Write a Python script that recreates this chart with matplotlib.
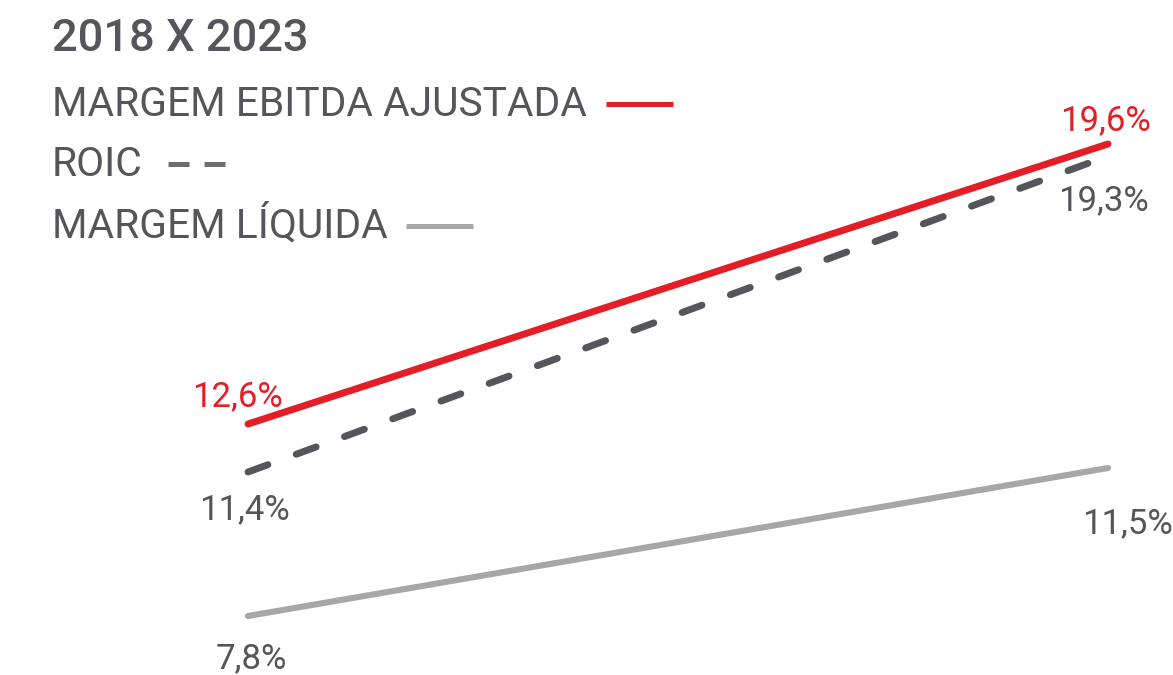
import matplotlib
matplotlib.use("Agg")
import matplotlib.pyplot as plt
from matplotlib.lines import Line2D

# ---- data ----
years = ["2018", "2023"]
series_names = ["MARGEM EBITDA AJUSTADA", "ROIC", "MARGEM LÍQUIDA"]
ebitda = [12.6, 19.6]
roic = [11.4, 19.3]
liquida = [7.8, 11.5]
ebitda_labels = ["12,6%", "19,6%"]
roic_labels = ["11,4%", "19,3%"]
liquida_labels = ["7,8%", "11,5%"]
title = "2018 X 2023"

RED = "#E31E26"
DARK = "#55565B"
LIGHT = "#A7A7A8"
TEXT = "#55565B"
FONT = "Roboto"

W, H = 1173, 675
fig = plt.figure(figsize=(W / 100, H / 100), dpi=100)
ax = fig.add_axes([0, 0, 1, 1])
ax.set_axis_off()
x = [0, 1]
# pixel mapping: x=0 -> 248px, x=1 -> 1108px ; y value v -> 928 - 40*v (from top)
ax.set_xlim(-248 / 860, (W - 248) / 860)
ax.set_ylim((928 - H) / 40, 928 / 40)

lw = 5.0
ax.plot(x, ebitda, color=RED, lw=lw, solid_capstyle="round")
l2, = ax.plot(x, roic, color=DARK, lw=lw, dash_capstyle="round")
l2.set_dashes([3.05, 4.35])
ax.plot(x, liquida, color=LIGHT, lw=4.4, solid_capstyle="round")

fs_lab = 25
def lab(xv, yv, s, dx, dy, color):
    ax.annotate(s, (xv, yv), xytext=(dx, dy), textcoords="offset pixels",
                ha="center", va="baseline", fontsize=fs_lab, color=color,
                family=FONT)

lab(x[0], ebitda[0], ebitda_labels[0], -11, 18, RED)
lab(x[1], ebitda[1], ebitda_labels[1], -3, 14, RED)
lab(x[0], roic[0], roic_labels[0], -4, -47, TEXT)
lab(x[1], roic[1], roic_labels[1], -5, -54, TEXT)
lab(x[0], liquida[0], liquida_labels[0], 3, -52, TEXT)
lab(x[1], liquida[1], liquida_labels[1], 19, -65, TEXT)

# title
fig.text(52 / W, 1 - 51 / H, title, fontsize=32.6, fontweight="medium", color=TEXT,
         family=FONT, ha="left", va="baseline")

# legend
fs_leg = 29.3
ys = [116, 176, 238]
styles = [dict(color=RED, lw=3.6, solid_capstyle="butt"),
          dict(color="#6D6E71", lw=3.6, dash_capstyle="butt", dashes=[4.2, 3.0]),
          dict(color=LIGHT, lw=3.6, solid_capstyle="butt")]
gaps = [19, 25, 18]
lengths = [67, 57, 67]
fig.canvas.draw()
r = fig.canvas.get_renderer()
for name, yb, st, g, L in zip(series_names, ys, styles, gaps, lengths):
    t = fig.text(52 / W, 1 - yb / H, name, fontsize=fs_leg, color=TEXT,
                 family=FONT, ha="left", va="baseline")
    bb = t.get_window_extent(renderer=r)
    x0 = bb.x1 + g
    yl = H - (yb - 12)
    ln = Line2D([x0 / W, (x0 + L) / W], [yl / H, yl / H], transform=fig.transFigure, **st)
    fig.add_artist(ln)

fig.savefig("out.png", dpi=100, facecolor="white")
